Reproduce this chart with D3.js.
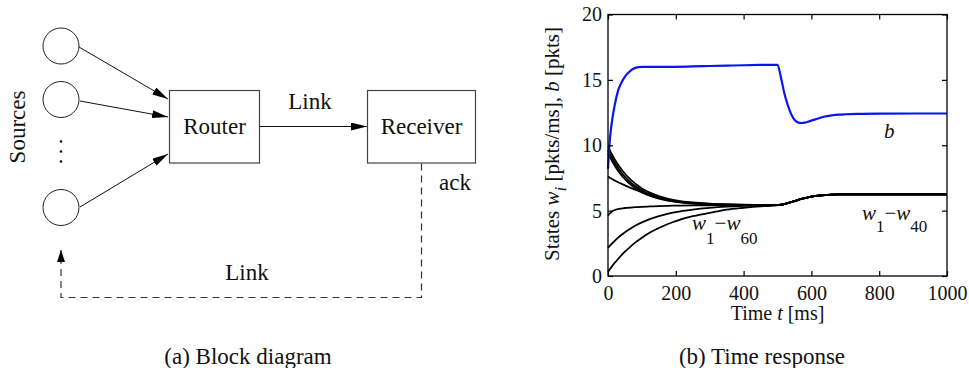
<!DOCTYPE html>
<html lang="en">
<head>
<meta charset="utf-8">
<script src="https://d3js.org/d3.v7.min.js"></script>
<style type="text/css">
body {
	margin: 0;
	background-color: #fff;
}
svg text, svg .axis {
	font-family: "Liberation Serif", "Times New Roman", Times, "DejaVu Serif", serif;
	fill: #111;
}
.axis text {
	font-size: 20px;
}
.axis line, .axis path {
	stroke: #000;
	stroke-width: 1.2;
}
</style>
</head>
<body>
<div class="chart"></div>
<script type="text/javascript">
// time samples [ms]
var timeMs = [0, 5, 10, 20, 30, 40, 50, 60, 80, 100, 125, 150, 175, 200, 250, 300, 350, 400, 450, 500,
	510, 520, 530, 540, 550, 560, 570, 580, 590, 600, 620, 640, 660, 680, 700, 750, 800, 900, 1000];

// queue b [pkts]
var bufferB = [8.20, 10.30, 11.50, 13.10, 14.20, 14.80, 15.25, 15.55, 15.92, 16.00, 16.00, 16.00, 15.99, 16.00, 16.03, 16.06, 16.09, 16.12, 16.14, 16.15,
	15.20, 14.00, 13.10, 12.40, 11.95, 11.75, 11.70, 11.73, 11.80, 11.88, 12.05, 12.20, 12.28, 12.34, 12.37, 12.40, 12.42, 12.43, 12.43];

// window states w_i [pkts/ms]
var wTop1 = [9.90, 9.64, 9.37, 8.91, 8.50, 8.14, 7.82, 7.54, 7.07, 6.70, 6.36, 6.11, 5.92, 5.79, 5.62, 5.53, 5.48, 5.45, 5.44, 5.43,
	5.45, 5.50, 5.57, 5.65, 5.73, 5.81, 5.89, 5.96, 6.02, 6.07, 6.14, 6.19, 6.22, 6.24, 6.25, 6.25, 6.25, 6.25, 6.25];
var wTop2 = [9.65, 9.38, 9.12, 8.66, 8.26, 7.90, 7.59, 7.32, 6.88, 6.54, 6.22, 5.99, 5.83, 5.71, 5.57, 5.50, 5.46, 5.44, 5.43, 5.43,
	5.45, 5.50, 5.57, 5.65, 5.73, 5.81, 5.89, 5.96, 6.02, 6.07, 6.14, 6.19, 6.22, 6.24, 6.25, 6.25, 6.25, 6.25, 6.25];
var wTop3 = [9.40, 9.13, 8.88, 8.43, 8.04, 7.70, 7.41, 7.15, 6.73, 6.41, 6.12, 5.92, 5.77, 5.67, 5.54, 5.48, 5.45, 5.44, 5.43, 5.43,
	5.45, 5.50, 5.57, 5.65, 5.73, 5.81, 5.89, 5.96, 6.02, 6.07, 6.14, 6.19, 6.22, 6.24, 6.25, 6.25, 6.25, 6.25, 6.25];
var wMid = [7.60, 7.52, 7.45, 7.30, 7.17, 7.05, 6.93, 6.82, 6.60, 6.40, 6.15, 5.97, 5.82, 5.72, 5.57, 5.50, 5.46, 5.44, 5.43, 5.43,
	5.45, 5.50, 5.57, 5.65, 5.73, 5.81, 5.89, 5.96, 6.02, 6.07, 6.14, 6.19, 6.22, 6.24, 6.25, 6.25, 6.25, 6.25, 6.25];
var wLow1 = [4.60, 4.78, 4.90, 5.05, 5.12, 5.16, 5.20, 5.22, 5.26, 5.29, 5.32, 5.35, 5.37, 5.38, 5.40, 5.41, 5.42, 5.42, 5.43, 5.43,
	5.45, 5.50, 5.57, 5.65, 5.73, 5.81, 5.89, 5.96, 6.02, 6.07, 6.14, 6.19, 6.22, 6.24, 6.25, 6.25, 6.25, 6.25, 6.25];
var wLow2 = [2.15, 2.29, 2.43, 2.69, 2.93, 3.15, 3.34, 3.52, 3.84, 4.10, 4.37, 4.58, 4.75, 4.89, 5.08, 5.21, 5.30, 5.36, 5.40, 5.42,
	5.45, 5.50, 5.57, 5.65, 5.73, 5.81, 5.89, 5.96, 6.02, 6.07, 6.14, 6.19, 6.22, 6.24, 6.25, 6.25, 6.25, 6.25, 6.25];
var wLow3 = [0.33, 0.50, 0.68, 1.01, 1.31, 1.60, 1.86, 2.10, 2.55, 2.93, 3.34, 3.67, 3.96, 4.20, 4.57, 4.82, 5.08, 5.22, 5.33, 5.40,
	5.45, 5.50, 5.57, 5.65, 5.73, 5.81, 5.89, 5.96, 6.02, 6.07, 6.14, 6.19, 6.22, 6.24, 6.25, 6.25, 6.25, 6.25, 6.25];

var xTicks = [0, 200, 400, 600, 800, 1000];
var yTicks = [0, 5, 10, 15, 20];

var width = 969, height = 368;
var serif = '"Liberation Serif", "Times New Roman", Times, "DejaVu Serif", serif';

var svg = d3.select(".chart")
	.append("svg")
	.attr("width", width)
	.attr("height", height)
	.attr("font-family", serif);

var defs = svg.append("defs");
defs.append("marker")
	.attr("id", "arrow")
	.attr("viewBox", "0 0 16 8")
	.attr("refX", 16)
	.attr("refY", 4)
	.attr("markerWidth", 16)
	.attr("markerHeight", 8)
	.attr("markerUnits", "userSpaceOnUse")
	.attr("orient", "auto")
	.append("path")
	.attr("d", "M0,0L16,4L0,8Z")
	.style("fill", "#000");

// ---------- (a) block diagram ----------
var blk = svg.append("g");

var sources = [46, 99.5, 207.5];
blk.selectAll("circle.src")
	.data(sources)
	.enter()
	.append("circle")
	.attr("class", "src")
	.attr("cx", 61)
	.attr("cy", function(d) { return d; })
	.attr("r", 18)
	.style("fill", "none")
	.style("stroke", "#222")
	.style("stroke-width", 1);

// vertical dots
blk.selectAll("circle.dot")
	.data([141.5, 151.5, 161.5])
	.enter()
	.append("circle")
	.attr("class", "dot")
	.attr("cx", 61)
	.attr("cy", function(d) { return d; })
	.attr("r", 1.3)
	.style("fill", "#111");

var arrowsIn = [[79, 47, 168, 99], [80, 101, 168, 117], [80, 207, 168, 154]];
blk.selectAll("line.in")
	.data(arrowsIn)
	.enter()
	.append("line")
	.attr("class", "in")
	.attr("x1", function(d) { return d[0]; })
	.attr("y1", function(d) { return d[1]; })
	.attr("x2", function(d) { return d[2]; })
	.attr("y2", function(d) { return d[3]; })
	.style("stroke", "#111")
	.style("stroke-width", 1)
	.attr("marker-end", "url(#arrow)");

var boxes = [
	{x: 169.5, y: 90.5, w: 90, h: 72.5, label: "Router"},
	{x: 367.5, y: 90.5, w: 108, h: 72.5, label: "Receiver"}
];
blk.selectAll("rect.box")
	.data(boxes)
	.enter()
	.append("rect")
	.attr("class", "box")
	.attr("x", function(d) { return d.x; })
	.attr("y", function(d) { return d.y; })
	.attr("width", function(d) { return d.w; })
	.attr("height", function(d) { return d.h; })
	.style("fill", "none")
	.style("stroke", "#444")
	.style("stroke-width", 1.2);
blk.selectAll("text.box")
	.data(boxes)
	.enter()
	.append("text")
	.attr("class", "box")
	.attr("x", function(d) { return d.x + d.w / 2; })
	.attr("y", 134)
	.attr("text-anchor", "middle")
	.style("font-size", "23px")
	.text(function(d) { return d.label; });

blk.append("line")
	.attr("x1", 259.5).attr("y1", 126.5)
	.attr("x2", 367).attr("y2", 126.5)
	.style("stroke", "#111")
	.style("stroke-width", 1)
	.attr("marker-end", "url(#arrow)");

// dashed ack path back to sources
blk.append("path")
	.attr("d", "M421.5,163.5V297.5H61V250")
	.style("fill", "none")
	.style("stroke", "#333")
	.style("stroke-width", 1.2)
	.style("stroke-dasharray", "7,5");
blk.append("path")
	.attr("d", "M61,250L65,262L57,262Z")
	.style("fill", "#000");

var blkText = [
	{x: 310, y: 109, t: "Link"},
	{x: 247, y: 280, t: "Link"},
	{x: 455, y: 190, t: "ack"},
	{x: 248, y: 364, t: "(a) Block diagram"}
];
blk.selectAll("text.lbl")
	.data(blkText)
	.enter()
	.append("text")
	.attr("class", "lbl")
	.attr("x", function(d) { return d.x; })
	.attr("y", function(d) { return d.y; })
	.attr("text-anchor", "middle")
	.style("font-size", "23px")
	.text(function(d) { return d.t; });

blk.append("text")
	.attr("transform", "translate(25,127)rotate(-90)")
	.attr("text-anchor", "middle")
	.style("font-size", "23px")
	.text("Sources");

// ---------- (b) time response ----------
var plot = {left: 608, top: 14.5, right: 947, bottom: 276};

var x = d3.scaleLinear().domain([0, 1000]).range([plot.left, plot.right]);
var y = d3.scaleLinear().domain([0, 20]).range([plot.bottom, plot.top]);

var g = svg.append("g");

var line = d3.line()
	.x(function(d) { return x(d[0]); })
	.y(function(d) { return y(d[1]); })
	.curve(d3.curveMonotoneX);

function pairs(vals) {
	return timeMs.map(function(t, i) { return [t, vals[i]]; });
}

var wSeries = [wTop1, wTop2, wTop3, wMid, wLow1, wLow2, wLow3];

g.selectAll("path.w")
	.data(wSeries)
	.enter()
	.append("path")
	.attr("class", "w")
	.attr("d", function(d) { return line(pairs(d)); })
	.style("fill", "none")
	.style("stroke", "#000")
	.style("stroke-width", 1.8);

g.append("path")
	.attr("d", line(pairs(bufferB)))
	.style("fill", "none")
	.style("stroke", "#0a14f0")
	.style("stroke-width", 2.2);

// axes: labels on bottom/left, mirrored inner ticks on top/right
g.append("g")
	.attr("class", "axis")
	.attr("transform", "translate(0," + plot.bottom + ")")
	.call(d3.axisBottom(x).tickValues(xTicks).tickSize(-5).tickPadding(10).tickFormat(d3.format("d")));
g.append("g")
	.attr("class", "axis")
	.attr("transform", "translate(0," + plot.top + ")")
	.call(d3.axisTop(x).tickValues(xTicks).tickSize(-5).tickFormat(""));
g.append("g")
	.attr("class", "axis")
	.attr("transform", "translate(" + plot.left + ",0)")
	.call(d3.axisLeft(y).tickValues(yTicks).tickSize(-5).tickPadding(6));
g.append("g")
	.attr("class", "axis")
	.attr("transform", "translate(" + plot.right + ",0)")
	.call(d3.axisRight(y).tickValues(yTicks).tickSize(-5).tickFormat(""));
g.selectAll(".axis .domain").remove();
g.selectAll(".axis").attr("font-family", serif).attr("font-size", 20);

g.append("rect")
	.attr("x", plot.left)
	.attr("y", plot.top)
	.attr("width", plot.right - plot.left)
	.attr("height", plot.bottom - plot.top)
	.style("fill", "none")
	.style("stroke", "#000")
	.style("stroke-width", 1.3);

// axis titles
var xt = g.append("text")
	.attr("x", x(500))
	.attr("y", 320)
	.attr("text-anchor", "middle")
	.style("font-size", "20px");
xt.append("tspan").text("Time ");
xt.append("tspan").style("font-style", "italic").text("t");
xt.append("tspan").text(" [ms]");

var yt = g.append("text")
	.attr("transform", "translate(559,144)rotate(-90)")
	.attr("text-anchor", "middle")
	.style("font-size", "21px");
yt.append("tspan").text("States ");
yt.append("tspan").style("font-style", "italic").text("w");
yt.append("tspan").attr("dy", 7).style("font-style", "italic").style("font-size", "17px").text("i");
yt.append("tspan").attr("dy", -7).text(" [pkts/ms], ");
yt.append("tspan").style("font-style", "italic").text("b");
yt.append("tspan").text(" [pkts]");

// curve annotations
g.append("text")
	.attr("x", x(814))
	.attr("y", y(10.57))
	.style("font-size", "21px")
	.style("font-style", "italic")
	.text("b");

var wLabels = [
	{t: 248, v: 3.52, sub: "60", dy: 14},
	{t: 749, v: 4.28, sub: "40", dy: 12}
];
wLabels.forEach(function(d) {
	var tx = g.append("text")
		.attr("x", x(d.t))
		.attr("y", y(d.v))
		.style("font-size", "21px");
	tx.append("tspan").style("font-style", "italic").text("w");
	tx.append("tspan").attr("dy", d.dy).style("font-size", "17px").text("1");
	tx.append("tspan").attr("dy", -d.dy).text("\u2212");
	tx.append("tspan").style("font-style", "italic").text("w");
	tx.append("tspan").attr("dy", d.dy).style("font-size", "17px").text(d.sub);
});

g.append("text")
	.attr("x", 762)
	.attr("y", 364)
	.attr("text-anchor", "middle")
	.style("font-size", "23px")
	.text("(b) Time response");
</script>
</body>
</html>
